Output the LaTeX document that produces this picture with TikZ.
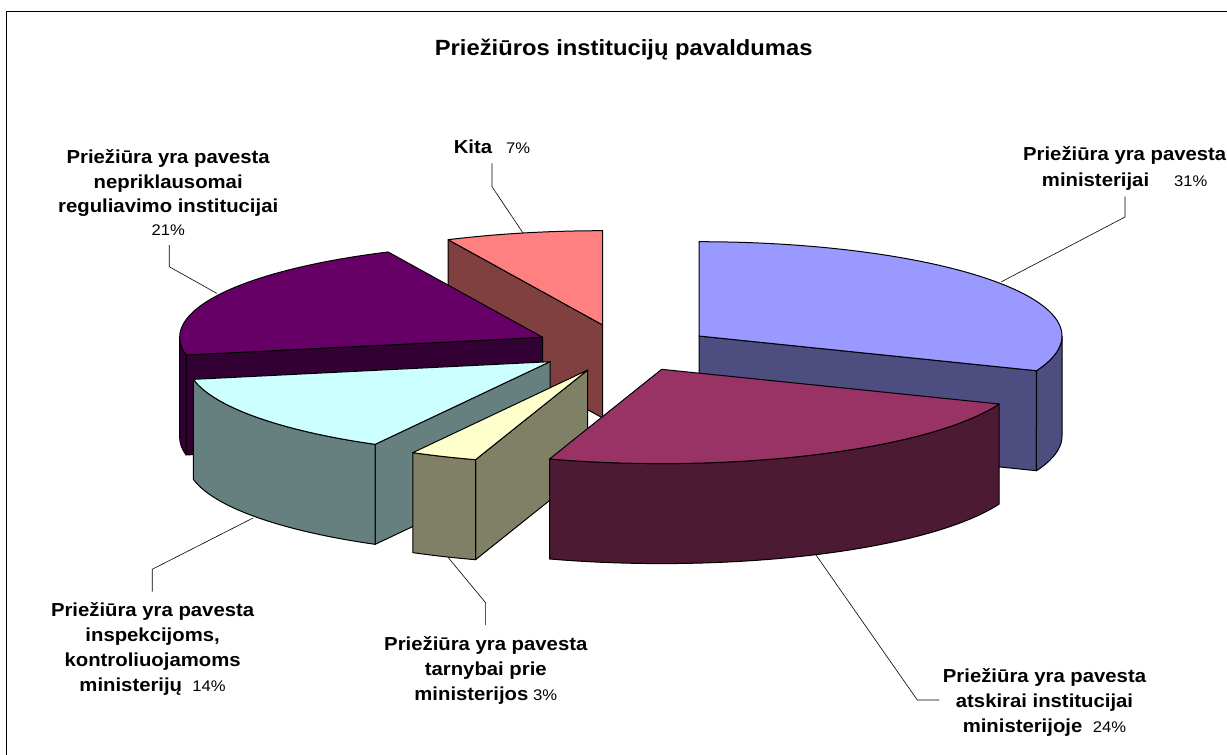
\documentclass[tikz,border=0pt]{standalone}
\usepackage{fontspec}
\setmainfont{Liberation Sans}
\newfontfamily\chartfont[FakeStretch=1.08]{Liberation Sans}
\newcommand{\labB}{\chartfont\bfseries\fontsize{18.8}{22}\selectfont}
\newcommand{\labP}{\chartfont\mdseries\fontsize{15.4}{18}\selectfont}
\newcommand{\ttlfont}{\chartfont\bfseries\fontsize{22}{26}\selectfont}
\newcommand{\pieRX}{363}
\newcommand{\pieRY}{94.3}
\definecolor{kitaTop}{HTML}{FF8080}\definecolor{kitaSide}{HTML}{804040}
\definecolor{purTop}{HTML}{660066}\definecolor{purSide}{HTML}{330033}
\definecolor{bluTop}{HTML}{9999FF}\definecolor{bluSide}{HTML}{4D4D80}
\definecolor{cyaTop}{HTML}{CCFFFF}\definecolor{cyaSide}{HTML}{668080}
\definecolor{yelTop}{HTML}{FFFFCC}\definecolor{yelSide}{HTML}{808066}
\definecolor{marTop}{HTML}{993366}\definecolor{marSide}{HTML}{4D1A33}
\tikzset{
  edge/.style={draw=black,line width=1pt,line join=round},
  leader/.style={draw=black,line width=0.6pt},
  lblb/.style={anchor=base,inner sep=0pt,font=\labB},
  lblp/.style={anchor=base,inner sep=0pt,font=\labP},
}
% top face: cx, cy, from, to, colour
\newcommand{\slTop}[5]{\filldraw[fill=#5,edge] (#1,#2) -- plot[domain=#3:#4,samples=90,variable=\t] ({#1+\pieRX*sin(\t)},{#2-\pieRY*cos(\t)}) -- cycle;}
% outer side: cx, cy, from, to, height, colour
\newcommand{\slSide}[6]{\filldraw[fill=#6,edge] plot[domain=#3:#4,samples=50,variable=\t] ({#1+\pieRX*sin(\t)},{#2-\pieRY*cos(\t)}) -- plot[domain=#4:#3,samples=50,variable=\t] ({#1+\pieRX*sin(\t)},{#2+#5-\pieRY*cos(\t)}) -- cycle;}
% radial cut face: cx, cy, angle, height, colour
\newcommand{\slCut}[5]{\filldraw[fill=#5,edge] (#1,#2) -- ({#1+\pieRX*sin(#3)},{#2-\pieRY*cos(#3)}) -- ({#1+\pieRX*sin(#3)},{#2+#4-\pieRY*cos(#3)}) -- ({#1},{#2+#4}) -- cycle;}
\begin{document}
\begin{tikzpicture}[x=1pt,y=-1pt]
\useasboundingbox (0,0) rectangle (1227,755);
\fill[white] (0,0) rectangle (1227,755);
% frame
\draw[line width=1pt] (6.7,755) -- (6.7,11.7) -- (1227,11.7);
% title
\node[anchor=base,inner sep=0pt,font=\ttlfont] (title) at (623.7,55) {Priežiūros institucijų pavaldumas};

% Kita 7%
\slCut{602.7}{325}{334.8}{93}{kitaSide}
\slTop{602.7}{325}{334.8}{360}{kitaTop}
% nepriklausomai 21%
\slCut{542.7}{337.3}{259.2}{100}{purSide}
\slSide{542.7}{337.3}{259.2}{270}{100}{purSide}
\slTop{542.7}{337.3}{259.2}{334.8}{purTop}
% ministerijai 31%
\slCut{699}{336}{111.6}{100}{bluSide}
\slSide{699}{336}{90}{111.6}{100}{bluSide}
\slTop{699}{336}{0}{111.6}{bluTop}
% inspekcijoms 14%
\slCut{550}{361.7}{208.8}{100}{cyaSide}
\slSide{550}{361.7}{208.8}{259.2}{100}{cyaSide}
\slTop{550}{361.7}{208.8}{259.2}{cyaTop}
% tarnybai 3%
\slCut{587.7}{370}{198}{100}{yelSide}
\slSide{587.7}{370}{198}{208.8}{100}{yelSide}
\slTop{587.7}{370}{198}{208.8}{yelTop}
% atskirai 24%
\slSide{661.7}{369.3}{111.6}{198}{100}{marSide}
\slTop{661.7}{369.3}{111.6}{198}{marTop}

% labels
\node[lblb] (a1) at (1124.7,160) {Priežiūra yra pavesta};
\node[lblb] (a2) at (1124.7,186.7) {ministerijai\hspace{25pt}{\labP 31\%}};

\node[lblb] (b1) at (492,153.3) {Kita\hspace{14pt}{\labP 7\%}};

\node[lblb] (c1) at (168.2,163.3) {Priežiūra yra pavesta};
\node[lblb] (c2) at (168.2,188.3) {nepriklausomai};
\node[lblb] (c3) at (168.2,212.7) {reguliavimo institucijai};
\node[lblp] (c4) at (168.2,235) {21\%};

\node[lblb] (d1) at (152.6,616) {Priežiūra yra pavesta};
\node[lblb] (d2) at (152.6,641) {inspekcijoms,};
\node[lblb] (d3) at (152.6,666.5) {kontroliuojamoms};
\node[lblb] (d4) at (152.6,691.5) {ministerijų\hspace{10.3pt}{\labP 14\%}};

\node[lblb] (e1) at (485.8,650) {Priežiūra yra pavesta};
\node[lblb] (e2) at (485.8,675) {tarnybai prie};
\node[lblb] (e3) at (485.8,700) {ministerijos\hspace{4.8pt}{\labP 3\%}};

\node[lblb] (f1) at (1044.5,682.7) {Priežiūra yra pavesta};
\node[lblb] (f2) at (1044.5,707.7) {atskirai institucijai};
\node[lblb] (f3) at (1044.5,732.7) {ministerijoje\hspace{10.6pt}{\labP 24\%}};

% leader lines
\coordinate (pA) at (1001,282);   \coordinate (kA) at (1125,217);   \coordinate (eA) at (1125,196.7);
\coordinate (pB) at (523,233);    \coordinate (kB) at (492,186.7);  \coordinate (eB) at (492,163.3);
\coordinate (pC) at (216.7,293.3);\coordinate (kC) at (169.2,266.7);\coordinate (eC) at (169.2,245);
\coordinate (pD) at (253,518);    \coordinate (kD) at (152.2,569.3);\coordinate (eD) at (152.2,591.7);
\coordinate (pE) at (448,557.3);  \coordinate (kE) at (485.6,602.7);\coordinate (eE) at (485.6,625);
\coordinate (pF) at (816,555);    \coordinate (kF) at (917.3,700);  \coordinate (eF) at (939.3,700);
\draw[leader] (pA) -- (kA) -- (eA);
\draw[leader] (pB) -- (kB) -- (eB);
\draw[leader] (pC) -- (kC) -- (eC);
\draw[leader] (pD) -- (kD) -- (eD);
\draw[leader] (pE) -- (kE) -- (eE);
\draw[leader] (pF) -- (kF) -- (eF);
\end{tikzpicture}
\end{document}
